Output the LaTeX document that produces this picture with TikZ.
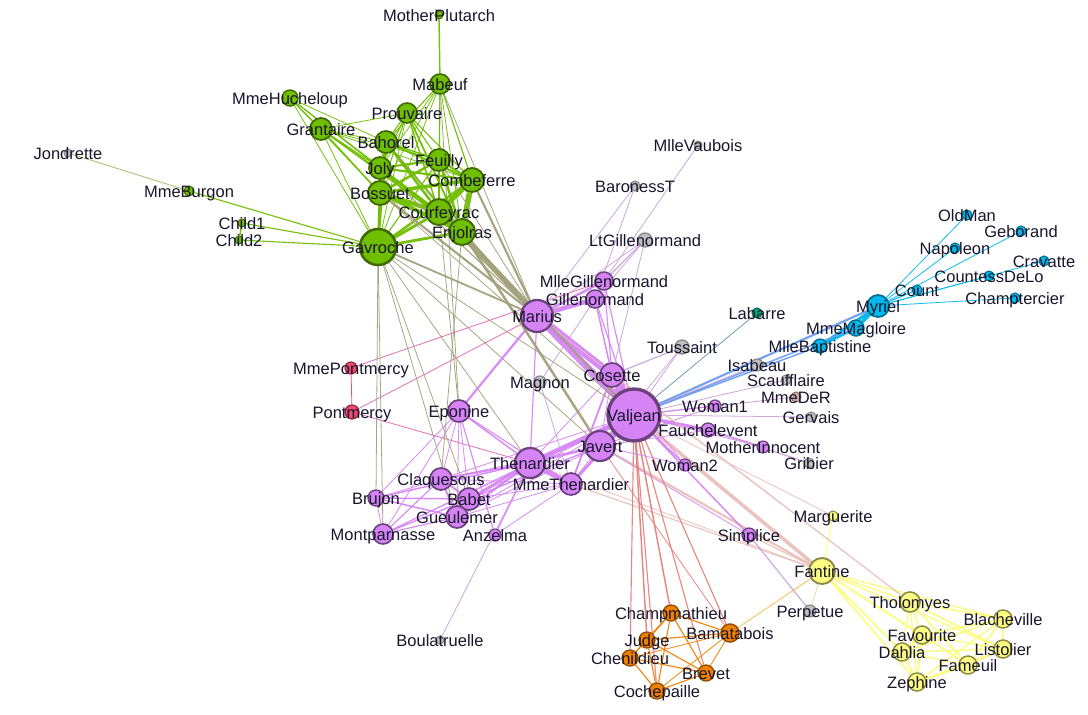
\documentclass[tikz,border=0pt]{standalone}
\usepackage{fontspec}
\setmainfont{Liberation Sans}
\usepackage{tikz}

\definecolor{cG}{RGB}{112,190,0}
\definecolor{cP}{RGB}{214,132,245}
\definecolor{cB}{RGB}{0,184,235}
\definecolor{cY}{RGB}{252,252,130}
\definecolor{cO}{RGB}{242,128,0}
\definecolor{cGr}{RGB}{192,192,192}
\definecolor{cPk}{RGB}{240,72,110}
\definecolor{cT}{RGB}{0,168,120}
\definecolor{cBr}{RGB}{205,170,160}
\definecolor{ink}{RGB}{24,22,44}

\pgfdeclarelayer{edges}
\pgfdeclarelayer{labels}
\pgfsetlayers{edges,main,labels}

\begin{document}
\begin{tikzpicture}[x=1pt,y=-1pt,
  vtx/.style={circle,inner sep=0pt,minimum size=2*#1,line width=0.11*#1+0.5},
  grn/.style={vtx=#1,fill=cG,draw=cG!55!black},
  pur/.style={vtx=#1,fill=cP,draw=cP!50!black},
  blu/.style={vtx=#1,fill=cB,draw=cB!60!black},
  yel/.style={vtx=#1,fill=cY,draw=cY!55!black},
  org/.style={vtx=#1,fill=cO,draw=cO!60!black},
  gry/.style={vtx=#1,fill=cGr,draw=cGr!70!black},
  pnk/.style={vtx=#1,fill=cPk,draw=cPk!60!black},
  tea/.style={vtx=#1,fill=cT,draw=cT!60!black},
  brn/.style={vtx=#1,fill=cBr,draw=cBr!70!black},
  lnk/.style={draw opacity=0.95},
  wt/.style={line width=0.34*#1+0.45},
  egg/.style={lnk,draw=cG},
  egp/.style={lnk,draw=cG!50!cP},
  eggr/.style={lnk,draw=cG!50!cGr},
  epp/.style={lnk,draw=cP},
  epb/.style={lnk,draw=cP!50!cB},
  ebb/.style={lnk,draw=cB},
  ept/.style={lnk,draw=cP!50!cT},
  epy/.style={lnk,draw=cP!50!cY},
  eyy/.style={lnk,draw=cY},
  epo/.style={lnk,draw=cP!50!cO},
  eoo/.style={lnk,draw=cO},
  eoy/.style={lnk,draw=cO!50!cY},
  epgr/.style={lnk,draw=cP!50!cGr},
  epbr/.style={lnk,draw=cP!50!cBr},
  egry/.style={lnk,draw=cGr!50!cY},
  eppk/.style={lnk,draw=cP!50!cPk},
  ekk/.style={lnk,draw=cPk},
  lbl/.style={font=\fontsize{16.5}{18}\selectfont,text=ink,anchor=base,yshift=-6.5pt,inner sep=0pt}]

\node[grn=4] (MotherPlutarch) at (439,15) {};
\node[grn=10] (Mabeuf) at (440,84) {};
\node[grn=10] (Prouvaire) at (407,113) {};
\node[grn=11] (Bahorel) at (386,142) {};
\node[grn=11] (Joly) at (380,168) {};
\node[grn=12] (Bossuet) at (380,193) {};
\node[grn=11] (Feuilly) at (439,160) {};
\node[grn=12] (Combeferre) at (472,180) {};
\node[grn=13] (Courfeyrac) at (439,212) {};
\node[grn=13] (Enjolras) at (462,232) {};
\node[grn=18] (Gavroche) at (378,247) {};
\node[grn=11] (Grantaire) at (321,129) {};
\node[grn=8] (MmeHucheloup) at (290,98) {};
\node[grn=5] (MmeBurgon) at (189,191) {};
\node[grn=4] (Child1) at (242,223) {};
\node[grn=4] (Child2) at (239,240) {};
\node[gry=4] (Jondrette) at (68,153) {};
\node[gry=4] (MlleVaubois) at (698,145) {};
\node[gry=5] (BaronessT) at (635,186) {};
\node[gry=7] (LtGillenormand) at (645,240) {};
\node[gry=7] (Toussaint) at (682,347) {};
\node[gry=6] (Magnon) at (540,382) {};
\node[gry=6] (Isabeau) at (757,365) {};
\node[gry=5] (Scaufflaire) at (786,380) {};
\node[gry=5] (Gervais) at (811,417) {};
\node[gry=5] (Gribier) at (809,463) {};
\node[gry=6] (Perpetue) at (810,611) {};
\node[gry=4] (Boulatruelle) at (440,640) {};
\node[brn=5] (MmeDeR) at (796,397) {};
\node[tea=5] (Labarre) at (757,313) {};
\node[blu=11] (Myriel) at (878,306) {};
\node[blu=8] (MmeMagloire) at (856,328) {};
\node[blu=7] (MlleBaptistine) at (820,346) {};
\node[blu=5] (Count) at (917,290) {};
\node[blu=5] (CountessDeLo) at (989,276) {};
\node[blu=5] (Cravatte) at (1044,261) {};
\node[blu=5] (Champtercier) at (1015,298) {};
\node[blu=5] (Napoleon) at (955,248) {};
\node[blu=5] (OldMan) at (967,215) {};
\node[blu=5] (Geborand) at (1021,231) {};
\node[pur=26] (Valjean) at (634,415) {};
\node[pur=16] (Marius) at (537,316) {};
\node[pur=12] (Cosette) at (612,375) {};
\node[pur=9] (MlleGillenormand) at (604,281) {};
\node[pur=9] (Gillenormand) at (595,299) {};
\node[pur=11] (Eponine) at (459,411) {};
\node[pur=15] (Javert) at (600,446) {};
\node[pur=15] (Thenardier) at (530,463) {};
\node[pur=11] (MmeThenardier) at (571,484) {};
\node[pur=11] (Claquesous) at (441,479) {};
\node[pur=11] (Babet) at (469,499) {};
\node[pur=11] (Gueulemer) at (457,517) {};
\node[pur=8] (Brujon) at (376,498) {};
\node[pur=10] (Montparnasse) at (383,534) {};
\node[pur=6] (Anzelma) at (495,535) {};
\node[pur=6] (Woman1) at (715,406) {};
\node[pur=7] (Fauchelevent) at (708,430) {};
\node[pur=6] (MotherInnocent) at (763,447) {};
\node[pur=6] (Woman2) at (685,465) {};
\node[pur=7] (Simplice) at (749,535) {};
\node[pnk=6] (MmePontmercy) at (351,368) {};
\node[pnk=7] (Pontmercy) at (352,412) {};
\node[yel=5] (Marguerite) at (833,516) {};
\node[yel=13] (Fantine) at (822,571) {};
\node[yel=10] (Tholomyes) at (910,602) {};
\node[yel=9] (Blacheville) at (1003,619) {};
\node[yel=9] (Favourite) at (922,635) {};
\node[yel=9] (Listolier) at (1003,649) {};
\node[yel=9] (Dahlia) at (902,652) {};
\node[yel=9] (Fameuil) at (968,665) {};
\node[yel=9] (Zephine) at (917,682) {};
\node[org=8] (Champmathieu) at (671,613) {};
\node[org=9] (Bamatabois) at (730,633) {};
\node[org=8] (Judge) at (647,640) {};
\node[org=8] (Chenildieu) at (630,658) {};
\node[org=8] (Brevet) at (706,673) {};
\node[org=8] (Cochepaille) at (657,691) {};

\begin{pgfonlayer}{edges}
\path[use as bounding box,fill=white] (0,0) rectangle (1088,715);
\draw[ebb,wt=1] (Napoleon) -- (Myriel);
\draw[ebb,wt=8] (MlleBaptistine) -- (Myriel);
\draw[ebb,wt=10] (MmeMagloire) -- (Myriel);
\draw[ebb,wt=6] (MmeMagloire) -- (MlleBaptistine);
\draw[ebb,wt=1] (CountessDeLo) -- (Myriel);
\draw[ebb,wt=1] (Geborand) -- (Myriel);
\draw[ebb,wt=1] (Champtercier) -- (Myriel);
\draw[ebb,wt=1] (Cravatte) -- (Myriel);
\draw[ebb,wt=2] (Count) -- (Myriel);
\draw[ebb,wt=1] (OldMan) -- (Myriel);
\draw[ept,wt=1] (Valjean) -- (Labarre);
\draw[epb,wt=3] (Valjean) -- (MmeMagloire);
\draw[epb,wt=3] (Valjean) -- (MlleBaptistine);
\draw[epb,wt=5] (Valjean) -- (Myriel);
\draw[epy,wt=1] (Marguerite) -- (Valjean);
\draw[epbr,wt=1] (MmeDeR) -- (Valjean);
\draw[epgr,wt=1] (Isabeau) -- (Valjean);
\draw[epgr,wt=1] (Gervais) -- (Valjean);
\draw[eyy,wt=4] (Listolier) -- (Tholomyes);
\draw[eyy,wt=4] (Fameuil) -- (Tholomyes);
\draw[eyy,wt=4] (Fameuil) -- (Listolier);
\draw[eyy,wt=4] (Blacheville) -- (Tholomyes);
\draw[eyy,wt=4] (Blacheville) -- (Listolier);
\draw[eyy,wt=4] (Blacheville) -- (Fameuil);
\draw[eyy,wt=3] (Favourite) -- (Tholomyes);
\draw[eyy,wt=3] (Favourite) -- (Listolier);
\draw[eyy,wt=3] (Favourite) -- (Fameuil);
\draw[eyy,wt=4] (Favourite) -- (Blacheville);
\draw[eyy,wt=3] (Dahlia) -- (Tholomyes);
\draw[eyy,wt=3] (Dahlia) -- (Listolier);
\draw[eyy,wt=3] (Dahlia) -- (Fameuil);
\draw[eyy,wt=3] (Dahlia) -- (Blacheville);
\draw[eyy,wt=5] (Dahlia) -- (Favourite);
\draw[eyy,wt=3] (Zephine) -- (Tholomyes);
\draw[eyy,wt=3] (Zephine) -- (Listolier);
\draw[eyy,wt=3] (Zephine) -- (Fameuil);
\draw[eyy,wt=3] (Zephine) -- (Blacheville);
\draw[eyy,wt=4] (Zephine) -- (Favourite);
\draw[eyy,wt=4] (Zephine) -- (Dahlia);
\draw[eyy,wt=3] (Fantine) -- (Tholomyes);
\draw[eyy,wt=3] (Fantine) -- (Listolier);
\draw[eyy,wt=3] (Fantine) -- (Fameuil);
\draw[eyy,wt=3] (Fantine) -- (Blacheville);
\draw[eyy,wt=4] (Fantine) -- (Favourite);
\draw[eyy,wt=4] (Fantine) -- (Dahlia);
\draw[eyy,wt=4] (Fantine) -- (Zephine);
\draw[eyy,wt=2] (Fantine) -- (Marguerite);
\draw[epy,wt=9] (Fantine) -- (Valjean);
\draw[epy,wt=2] (MmeThenardier) -- (Fantine);
\draw[epp,wt=7] (MmeThenardier) -- (Valjean);
\draw[epp,wt=13] (Thenardier) -- (MmeThenardier);
\draw[epy,wt=1] (Thenardier) -- (Fantine);
\draw[epp,wt=12] (Thenardier) -- (Valjean);
\draw[epp,wt=4] (Cosette) -- (MmeThenardier);
\draw[epp,wt=31] (Cosette) -- (Valjean);
\draw[epy,wt=1] (Cosette) -- (Tholomyes);
\draw[epp,wt=1] (Cosette) -- (Thenardier);
\draw[epp,wt=17] (Javert) -- (Valjean);
\draw[epy,wt=5] (Javert) -- (Fantine);
\draw[epp,wt=5] (Javert) -- (Thenardier);
\draw[epp,wt=1] (Javert) -- (MmeThenardier);
\draw[epp,wt=1] (Javert) -- (Cosette);
\draw[epp,wt=8] (Fauchelevent) -- (Valjean);
\draw[epp,wt=1] (Fauchelevent) -- (Javert);
\draw[eoy,wt=1] (Bamatabois) -- (Fantine);
\draw[epo,wt=1] (Bamatabois) -- (Javert);
\draw[epo,wt=2] (Bamatabois) -- (Valjean);
\draw[egry,wt=1] (Perpetue) -- (Fantine);
\draw[epgr,wt=2] (Simplice) -- (Perpetue);
\draw[epp,wt=3] (Simplice) -- (Valjean);
\draw[epy,wt=2] (Simplice) -- (Fantine);
\draw[epp,wt=1] (Simplice) -- (Javert);
\draw[epgr,wt=1] (Scaufflaire) -- (Valjean);
\draw[epp,wt=2] (Woman1) -- (Valjean);
\draw[epp,wt=1] (Woman1) -- (Javert);
\draw[epo,wt=3] (Judge) -- (Valjean);
\draw[eoo,wt=2] (Judge) -- (Bamatabois);
\draw[epo,wt=3] (Champmathieu) -- (Valjean);
\draw[eoo,wt=3] (Champmathieu) -- (Judge);
\draw[eoo,wt=2] (Champmathieu) -- (Bamatabois);
\draw[eoo,wt=2] (Brevet) -- (Judge);
\draw[eoo,wt=2] (Brevet) -- (Champmathieu);
\draw[epo,wt=2] (Brevet) -- (Valjean);
\draw[eoo,wt=1] (Brevet) -- (Bamatabois);
\draw[eoo,wt=2] (Chenildieu) -- (Judge);
\draw[eoo,wt=2] (Chenildieu) -- (Champmathieu);
\draw[eoo,wt=2] (Chenildieu) -- (Brevet);
\draw[epo,wt=2] (Chenildieu) -- (Valjean);
\draw[eoo,wt=1] (Chenildieu) -- (Bamatabois);
\draw[eoo,wt=2] (Cochepaille) -- (Judge);
\draw[eoo,wt=2] (Cochepaille) -- (Champmathieu);
\draw[eoo,wt=2] (Cochepaille) -- (Brevet);
\draw[eoo,wt=2] (Cochepaille) -- (Chenildieu);
\draw[epo,wt=2] (Cochepaille) -- (Valjean);
\draw[eoo,wt=1] (Cochepaille) -- (Bamatabois);
\draw[eppk,wt=1] (Pontmercy) -- (Thenardier);
\draw[epgr,wt=1] (Boulatruelle) -- (Thenardier);
\draw[epp,wt=2] (Eponine) -- (MmeThenardier);
\draw[epp,wt=3] (Eponine) -- (Thenardier);
\draw[epp,wt=2] (Anzelma) -- (Eponine);
\draw[epp,wt=2] (Anzelma) -- (Thenardier);
\draw[epp,wt=1] (Anzelma) -- (MmeThenardier);
\draw[epp,wt=3] (Woman2) -- (Valjean);
\draw[epp,wt=1] (Woman2) -- (Cosette);
\draw[epp,wt=1] (Woman2) -- (Javert);
\draw[epp,wt=3] (MotherInnocent) -- (Fauchelevent);
\draw[epp,wt=1] (MotherInnocent) -- (Valjean);
\draw[epgr,wt=2] (Gribier) -- (Fauchelevent);
\draw[eggr,wt=1] (MmeBurgon) -- (Jondrette);
\draw[egg,wt=2] (Gavroche) -- (MmeBurgon);
\draw[egp,wt=1] (Gavroche) -- (Thenardier);
\draw[egp,wt=1] (Gavroche) -- (Javert);
\draw[egp,wt=1] (Gavroche) -- (Valjean);
\draw[epp,wt=3] (Gillenormand) -- (Cosette);
\draw[epp,wt=2] (Gillenormand) -- (Valjean);
\draw[epgr,wt=1] (Magnon) -- (Gillenormand);
\draw[epgr,wt=1] (Magnon) -- (MmeThenardier);
\draw[epp,wt=9] (MlleGillenormand) -- (Gillenormand);
\draw[epp,wt=2] (MlleGillenormand) -- (Cosette);
\draw[epp,wt=2] (MlleGillenormand) -- (Valjean);
\draw[eppk,wt=1] (MmePontmercy) -- (MlleGillenormand);
\draw[ekk,wt=1] (MmePontmercy) -- (Pontmercy);
\draw[epgr,wt=1] (MlleVaubois) -- (MlleGillenormand);
\draw[epgr,wt=2] (LtGillenormand) -- (MlleGillenormand);
\draw[epgr,wt=1] (LtGillenormand) -- (Gillenormand);
\draw[epgr,wt=1] (LtGillenormand) -- (Cosette);
\draw[epp,wt=6] (Marius) -- (MlleGillenormand);
\draw[epp,wt=12] (Marius) -- (Gillenormand);
\draw[eppk,wt=1] (Marius) -- (Pontmercy);
\draw[epgr,wt=1] (Marius) -- (LtGillenormand);
\draw[epp,wt=21] (Marius) -- (Cosette);
\draw[epp,wt=19] (Marius) -- (Valjean);
\draw[epy,wt=1] (Marius) -- (Tholomyes);
\draw[epp,wt=2] (Marius) -- (Thenardier);
\draw[epp,wt=5] (Marius) -- (Eponine);
\draw[egp,wt=4] (Marius) -- (Gavroche);
\draw[epgr,wt=1] (BaronessT) -- (Gillenormand);
\draw[epgr,wt=1] (BaronessT) -- (Marius);
\draw[egp,wt=1] (Mabeuf) -- (Marius);
\draw[egp,wt=1] (Mabeuf) -- (Eponine);
\draw[egg,wt=1] (Mabeuf) -- (Gavroche);
\draw[egp,wt=7] (Enjolras) -- (Marius);
\draw[egg,wt=7] (Enjolras) -- (Gavroche);
\draw[egp,wt=6] (Enjolras) -- (Javert);
\draw[egg,wt=1] (Enjolras) -- (Mabeuf);
\draw[egp,wt=4] (Enjolras) -- (Valjean);
\draw[egg,wt=15] (Combeferre) -- (Enjolras);
\draw[egp,wt=5] (Combeferre) -- (Marius);
\draw[egg,wt=6] (Combeferre) -- (Gavroche);
\draw[egg,wt=2] (Combeferre) -- (Mabeuf);
\draw[egg,wt=1] (Prouvaire) -- (Gavroche);
\draw[egg,wt=4] (Prouvaire) -- (Enjolras);
\draw[egg,wt=2] (Prouvaire) -- (Combeferre);
\draw[egg,wt=2] (Feuilly) -- (Gavroche);
\draw[egg,wt=6] (Feuilly) -- (Enjolras);
\draw[egg,wt=2] (Feuilly) -- (Prouvaire);
\draw[egg,wt=5] (Feuilly) -- (Combeferre);
\draw[egg,wt=1] (Feuilly) -- (Mabeuf);
\draw[egp,wt=1] (Feuilly) -- (Marius);
\draw[egp,wt=9] (Courfeyrac) -- (Marius);
\draw[egg,wt=17] (Courfeyrac) -- (Enjolras);
\draw[egg,wt=13] (Courfeyrac) -- (Combeferre);
\draw[egg,wt=7] (Courfeyrac) -- (Gavroche);
\draw[egg,wt=2] (Courfeyrac) -- (Mabeuf);
\draw[egp,wt=1] (Courfeyrac) -- (Eponine);
\draw[egg,wt=6] (Courfeyrac) -- (Feuilly);
\draw[egg,wt=3] (Courfeyrac) -- (Prouvaire);
\draw[egg,wt=5] (Bahorel) -- (Combeferre);
\draw[egg,wt=5] (Bahorel) -- (Gavroche);
\draw[egg,wt=6] (Bahorel) -- (Courfeyrac);
\draw[egg,wt=2] (Bahorel) -- (Mabeuf);
\draw[egg,wt=4] (Bahorel) -- (Enjolras);
\draw[egg,wt=3] (Bahorel) -- (Feuilly);
\draw[egg,wt=2] (Bahorel) -- (Prouvaire);
\draw[egp,wt=1] (Bahorel) -- (Marius);
\draw[egp,wt=5] (Bossuet) -- (Marius);
\draw[egg,wt=12] (Bossuet) -- (Courfeyrac);
\draw[egg,wt=5] (Bossuet) -- (Gavroche);
\draw[egg,wt=4] (Bossuet) -- (Bahorel);
\draw[egg,wt=10] (Bossuet) -- (Enjolras);
\draw[egg,wt=6] (Bossuet) -- (Feuilly);
\draw[egg,wt=2] (Bossuet) -- (Prouvaire);
\draw[egg,wt=9] (Bossuet) -- (Combeferre);
\draw[egg,wt=1] (Bossuet) -- (Mabeuf);
\draw[egp,wt=1] (Bossuet) -- (Valjean);
\draw[egg,wt=5] (Joly) -- (Bahorel);
\draw[egg,wt=7] (Joly) -- (Bossuet);
\draw[egg,wt=3] (Joly) -- (Gavroche);
\draw[egg,wt=5] (Joly) -- (Courfeyrac);
\draw[egg,wt=5] (Joly) -- (Enjolras);
\draw[egg,wt=5] (Joly) -- (Feuilly);
\draw[egg,wt=2] (Joly) -- (Prouvaire);
\draw[egg,wt=5] (Joly) -- (Combeferre);
\draw[egg,wt=1] (Joly) -- (Mabeuf);
\draw[egp,wt=2] (Joly) -- (Marius);
\draw[egg,wt=3] (Grantaire) -- (Bossuet);
\draw[egg,wt=3] (Grantaire) -- (Enjolras);
\draw[egg,wt=1] (Grantaire) -- (Combeferre);
\draw[egg,wt=2] (Grantaire) -- (Courfeyrac);
\draw[egg,wt=2] (Grantaire) -- (Joly);
\draw[egg,wt=1] (Grantaire) -- (Gavroche);
\draw[egg,wt=1] (Grantaire) -- (Bahorel);
\draw[egg,wt=1] (Grantaire) -- (Feuilly);
\draw[egg,wt=1] (Grantaire) -- (Prouvaire);
\draw[egg,wt=3] (MotherPlutarch) -- (Mabeuf);
\draw[epp,wt=5] (Gueulemer) -- (Thenardier);
\draw[epp,wt=1] (Gueulemer) -- (Valjean);
\draw[epp,wt=1] (Gueulemer) -- (MmeThenardier);
\draw[epp,wt=1] (Gueulemer) -- (Javert);
\draw[egp,wt=1] (Gueulemer) -- (Gavroche);
\draw[epp,wt=1] (Gueulemer) -- (Eponine);
\draw[epp,wt=6] (Babet) -- (Thenardier);
\draw[epp,wt=6] (Babet) -- (Gueulemer);
\draw[epp,wt=1] (Babet) -- (Valjean);
\draw[epp,wt=1] (Babet) -- (MmeThenardier);
\draw[epp,wt=2] (Babet) -- (Javert);
\draw[egp,wt=1] (Babet) -- (Gavroche);
\draw[epp,wt=1] (Babet) -- (Eponine);
\draw[epp,wt=4] (Claquesous) -- (Thenardier);
\draw[epp,wt=4] (Claquesous) -- (Babet);
\draw[epp,wt=4] (Claquesous) -- (Gueulemer);
\draw[epp,wt=1] (Claquesous) -- (Valjean);
\draw[epp,wt=1] (Claquesous) -- (MmeThenardier);
\draw[epp,wt=1] (Claquesous) -- (Javert);
\draw[epp,wt=1] (Claquesous) -- (Eponine);
\draw[egp,wt=1] (Claquesous) -- (Enjolras);
\draw[epp,wt=1] (Montparnasse) -- (Javert);
\draw[epp,wt=2] (Montparnasse) -- (Babet);
\draw[epp,wt=2] (Montparnasse) -- (Gueulemer);
\draw[epp,wt=2] (Montparnasse) -- (Claquesous);
\draw[epp,wt=1] (Montparnasse) -- (Valjean);
\draw[egp,wt=1] (Montparnasse) -- (Gavroche);
\draw[epp,wt=1] (Montparnasse) -- (Eponine);
\draw[epp,wt=1] (Montparnasse) -- (Thenardier);
\draw[epgr,wt=2] (Toussaint) -- (Cosette);
\draw[epgr,wt=1] (Toussaint) -- (Javert);
\draw[epgr,wt=1] (Toussaint) -- (Valjean);
\draw[egg,wt=2] (Child1) -- (Gavroche);
\draw[egg,wt=2] (Child2) -- (Gavroche);
\draw[egg,wt=3] (Child2) -- (Child1);
\draw[epp,wt=3] (Brujon) -- (Babet);
\draw[epp,wt=3] (Brujon) -- (Gueulemer);
\draw[epp,wt=3] (Brujon) -- (Thenardier);
\draw[egp,wt=1] (Brujon) -- (Gavroche);
\draw[epp,wt=1] (Brujon) -- (Eponine);
\draw[epp,wt=1] (Brujon) -- (Claquesous);
\draw[epp,wt=1] (Brujon) -- (Montparnasse);
\draw[egg,wt=1] (MmeHucheloup) -- (Bossuet);
\draw[egg,wt=1] (MmeHucheloup) -- (Joly);
\draw[egg,wt=1] (MmeHucheloup) -- (Grantaire);
\draw[egg,wt=1] (MmeHucheloup) -- (Bahorel);
\draw[egg,wt=1] (MmeHucheloup) -- (Courfeyrac);
\draw[egg,wt=1] (MmeHucheloup) -- (Gavroche);
\draw[egg,wt=1] (MmeHucheloup) -- (Enjolras);
\end{pgfonlayer}

\begin{pgfonlayer}{labels}
\node[lbl] at (MotherPlutarch) {MotherPlutarch};
\node[lbl] at (Mabeuf) {Mabeuf};
\node[lbl] at (Prouvaire) {Prouvaire};
\node[lbl] at (Bahorel) {Bahorel};
\node[lbl] at (Joly) {Joly};
\node[lbl] at (Bossuet) {Bossuet};
\node[lbl] at (Feuilly) {Feuilly};
\node[lbl] at (Combeferre) {Combeferre};
\node[lbl] at (Courfeyrac) {Courfeyrac};
\node[lbl] at (Enjolras) {Enjolras};
\node[lbl] at (Gavroche) {Gavroche};
\node[lbl] at (Grantaire) {Grantaire};
\node[lbl] at (MmeHucheloup) {MmeHucheloup};
\node[lbl] at (MmeBurgon) {MmeBurgon};
\node[lbl] at (Child1) {Child1};
\node[lbl] at (Child2) {Child2};
\node[lbl] at (Jondrette) {Jondrette};
\node[lbl] at (MlleVaubois) {MlleVaubois};
\node[lbl] at (BaronessT) {BaronessT};
\node[lbl] at (LtGillenormand) {LtGillenormand};
\node[lbl] at (Toussaint) {Toussaint};
\node[lbl] at (Magnon) {Magnon};
\node[lbl] at (Isabeau) {Isabeau};
\node[lbl] at (Scaufflaire) {Scaufflaire};
\node[lbl] at (Gervais) {Gervais};
\node[lbl] at (Gribier) {Gribier};
\node[lbl] at (Perpetue) {Perpetue};
\node[lbl] at (Boulatruelle) {Boulatruelle};
\node[lbl] at (MmeDeR) {MmeDeR};
\node[lbl] at (Labarre) {Labarre};
\node[lbl] at (Myriel) {Myriel};
\node[lbl] at (MmeMagloire) {MmeMagloire};
\node[lbl] at (MlleBaptistine) {MlleBaptistine};
\node[lbl] at (Count) {Count};
\node[lbl] at (CountessDeLo) {CountessDeLo};
\node[lbl] at (Cravatte) {Cravatte};
\node[lbl] at (Champtercier) {Champtercier};
\node[lbl] at (Napoleon) {Napoleon};
\node[lbl] at (OldMan) {OldMan};
\node[lbl] at (Geborand) {Geborand};
\node[lbl] at (Valjean) {Valjean};
\node[lbl] at (Marius) {Marius};
\node[lbl] at (Cosette) {Cosette};
\node[lbl] at (MlleGillenormand) {MlleGillenormand};
\node[lbl] at (Gillenormand) {Gillenormand};
\node[lbl] at (Eponine) {Eponine};
\node[lbl] at (Javert) {Javert};
\node[lbl] at (Thenardier) {Thenardier};
\node[lbl] at (MmeThenardier) {MmeThenardier};
\node[lbl] at (Claquesous) {Claquesous};
\node[lbl] at (Babet) {Babet};
\node[lbl] at (Gueulemer) {Gueulemer};
\node[lbl] at (Brujon) {Brujon};
\node[lbl] at (Montparnasse) {Montparnasse};
\node[lbl] at (Anzelma) {Anzelma};
\node[lbl] at (Woman1) {Woman1};
\node[lbl] at (Fauchelevent) {Fauchelevent};
\node[lbl] at (MotherInnocent) {MotherInnocent};
\node[lbl] at (Woman2) {Woman2};
\node[lbl] at (Simplice) {Simplice};
\node[lbl] at (MmePontmercy) {MmePontmercy};
\node[lbl] at (Pontmercy) {Pontmercy};
\node[lbl] at (Marguerite) {Marguerite};
\node[lbl] at (Fantine) {Fantine};
\node[lbl] at (Tholomyes) {Tholomyes};
\node[lbl] at (Blacheville) {Blacheville};
\node[lbl] at (Favourite) {Favourite};
\node[lbl] at (Listolier) {Listolier};
\node[lbl] at (Dahlia) {Dahlia};
\node[lbl] at (Fameuil) {Fameuil};
\node[lbl] at (Zephine) {Zephine};
\node[lbl] at (Champmathieu) {Champmathieu};
\node[lbl] at (Bamatabois) {Bamatabois};
\node[lbl] at (Judge) {Judge};
\node[lbl] at (Chenildieu) {Chenildieu};
\node[lbl] at (Brevet) {Brevet};
\node[lbl] at (Cochepaille) {Cochepaille};
\end{pgfonlayer}

\end{tikzpicture}
\end{document}
